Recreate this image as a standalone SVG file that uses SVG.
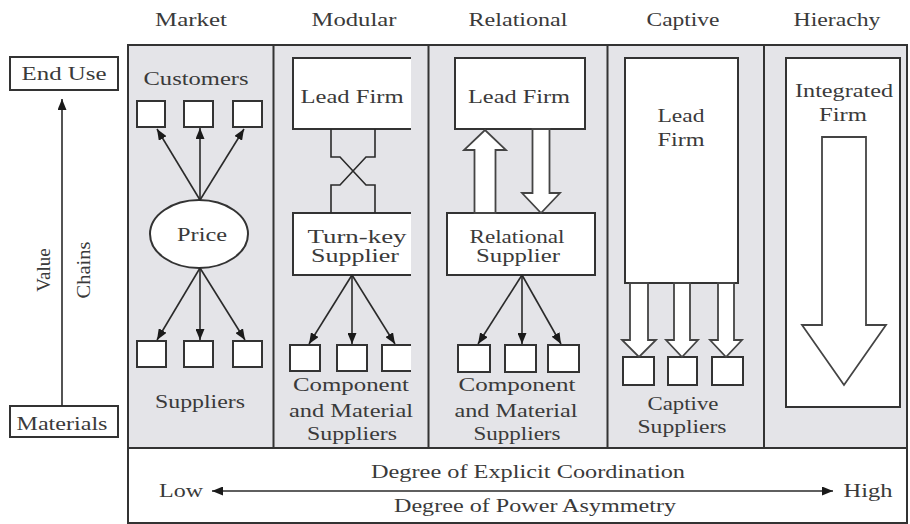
<svg xmlns="http://www.w3.org/2000/svg" width="910" height="524" viewBox="0 0 910 524">
<defs>
<style>
.t{font-family:"Liberation Serif","Times New Roman",serif;font-size:19px;fill:#3a3a3a;text-anchor:middle}
.box{fill:#fff;stroke:#333;stroke-width:2}
.col{fill:#e4e4e8;stroke:#333;stroke-width:2}
.ln{fill:none;stroke:#2a2a2a;stroke-width:1.6}
.hol{fill:#fff;stroke:#444;stroke-width:1.8;stroke-linejoin:miter}
</style>
<marker id="ah" markerUnits="userSpaceOnUse" markerWidth="11" markerHeight="9" viewBox="0 0 11 9" refX="11" refY="4.5" orient="auto-start-reverse">
<path d="M0,0 L11,4.5 L0,9 z" fill="#1a1a1a"/>
</marker>
<clipPath id="modclip"><rect x="273" y="45" width="138" height="403"/></clipPath>
</defs>
<rect width="910" height="524" fill="#fff"/>

<g id="columns">
<rect class="col" x="128" y="45" width="779" height="403"/>
<line x1="273.5" y1="45" x2="273.5" y2="448" stroke="#333" stroke-width="2"/>
<line x1="428.5" y1="45" x2="428.5" y2="448" stroke="#333" stroke-width="2"/>
<line x1="607.5" y1="45" x2="607.5" y2="448" stroke="#333" stroke-width="2"/>
<line x1="764" y1="45" x2="764" y2="448" stroke="#333" stroke-width="2"/>
<rect class="box" x="128" y="448" width="779" height="75"/>
</g>

<g id="column-labels">
<text class="t" x="191" y="26" textLength="72" lengthAdjust="spacingAndGlyphs">Market</text>
<text class="t" x="354" y="26" textLength="85" lengthAdjust="spacingAndGlyphs">Modular</text>
<text class="t" x="518" y="26" textLength="99" lengthAdjust="spacingAndGlyphs">Relational</text>
<text class="t" x="683" y="26" textLength="73" lengthAdjust="spacingAndGlyphs">Captive</text>
<text class="t" x="837" y="26" textLength="87" lengthAdjust="spacingAndGlyphs">Hierachy</text>
</g>

<g id="end-use">
<rect class="box" x="10" y="57" width="108" height="33"/>
<text class="t" x="64" y="80" textLength="85" lengthAdjust="spacingAndGlyphs">End Use</text>
</g>
<g id="materials">
<rect class="box" x="10" y="406" width="108" height="31"/>
<text class="t" x="62" y="430" textLength="91" lengthAdjust="spacingAndGlyphs">Materials</text>
</g>
<g id="value-chains-label">
<text class="t" transform="translate(50,270) rotate(-90)">Value</text>
<text class="t" transform="translate(90,270) rotate(-90)" textLength="57" lengthAdjust="spacingAndGlyphs">Chains</text>
</g>

<g id="market">
<text class="t" x="196" y="85" textLength="105" lengthAdjust="spacingAndGlyphs">Customers</text>
<rect class="box" x="137" y="101" width="28" height="26"/>
<rect class="box" x="184" y="101" width="29" height="26"/>
<rect class="box" x="233" y="101" width="29" height="26"/>
<ellipse class="box" cx="199" cy="234" rx="49" ry="34"/>
<text class="t" x="202" y="241" textLength="50" lengthAdjust="spacingAndGlyphs">Price</text>
<rect class="box" x="137" y="341" width="29" height="26"/>
<rect class="box" x="184" y="341" width="29" height="26"/>
<rect class="box" x="233" y="341" width="29" height="26"/>
<text class="t" x="200" y="408" textLength="90" lengthAdjust="spacingAndGlyphs">Suppliers</text>
</g>

<g id="modular">
<rect class="box" x="293" y="58" width="130" height="71" clip-path="url(#modclip)"/>
<text class="t" x="352" y="103" textLength="103" lengthAdjust="spacingAndGlyphs">Lead Firm</text>
<rect class="box" x="293" y="213" width="130" height="62" clip-path="url(#modclip)"/>
<text class="t" x="357" y="243" textLength="99" lengthAdjust="spacingAndGlyphs">Turn-key</text>
<text class="t" x="355" y="262" textLength="88" lengthAdjust="spacingAndGlyphs">Supplier</text>
<rect class="box" x="290" y="345" width="30" height="26"/>
<rect class="box" x="337" y="345" width="30" height="26"/>
<rect class="box" x="382" y="345" width="40" height="26" clip-path="url(#modclip)"/>
<text class="t" x="351" y="391" textLength="116" lengthAdjust="spacingAndGlyphs">Component</text>
<text class="t" x="351" y="417" textLength="124" lengthAdjust="spacingAndGlyphs">and Material</text>
<text class="t" x="352" y="440" textLength="90" lengthAdjust="spacingAndGlyphs">Suppliers</text>
</g>

<g id="relational">
<rect class="box" x="455" y="58" width="130" height="71"/>
<text class="t" x="519" y="103" textLength="102" lengthAdjust="spacingAndGlyphs">Lead Firm</text>
<rect class="box" x="447" y="213" width="148" height="62"/>
<text class="t" x="517" y="243" textLength="95" lengthAdjust="spacingAndGlyphs">Relational</text>
<text class="t" x="518" y="262" textLength="84" lengthAdjust="spacingAndGlyphs">Supplier</text>
<rect class="box" x="458" y="345" width="32" height="27"/>
<rect class="box" x="505" y="345" width="31" height="27"/>
<rect class="box" x="548" y="345" width="31" height="27"/>
<text class="t" x="517" y="391" textLength="117" lengthAdjust="spacingAndGlyphs">Component</text>
<text class="t" x="516" y="417" textLength="123" lengthAdjust="spacingAndGlyphs">and Material</text>
<text class="t" x="517" y="440" textLength="87" lengthAdjust="spacingAndGlyphs">Suppliers</text>
</g>

<g id="captive">
<rect class="box" x="625" y="58" width="113" height="225"/>
<text class="t" x="681" y="122" textLength="47" lengthAdjust="spacingAndGlyphs">Lead</text>
<text class="t" x="681" y="146" textLength="47" lengthAdjust="spacingAndGlyphs">Firm</text>
<rect class="box" x="623" y="357" width="31" height="28"/>
<rect class="box" x="668" y="357" width="29" height="28"/>
<rect class="box" x="712" y="357" width="31" height="28"/>
<text class="t" x="683" y="410" textLength="71" lengthAdjust="spacingAndGlyphs">Captive</text>
<text class="t" x="682" y="433" textLength="89" lengthAdjust="spacingAndGlyphs">Suppliers</text>
</g>

<g id="hierarchy">
<rect class="box" x="786" y="58" width="114" height="349"/>
<text class="t" x="844" y="97" textLength="98" lengthAdjust="spacingAndGlyphs">Integrated</text>
<text class="t" x="843" y="121" textLength="48" lengthAdjust="spacingAndGlyphs">Firm</text>
</g>

<g id="scale">
<text class="t" x="528" y="478" textLength="314" lengthAdjust="spacingAndGlyphs">Degree of Explicit Coordination</text>
<text class="t" x="181" y="497" textLength="44" lengthAdjust="spacingAndGlyphs">Low</text>
<text class="t" x="868" y="497" textLength="49" lengthAdjust="spacingAndGlyphs">High</text>
<text class="t" x="535" y="512" textLength="282" lengthAdjust="spacingAndGlyphs">Degree of Power Asymmetry</text>
</g>

<g id="connectors">
<line class="ln" x1="62" y1="406" x2="62" y2="99" marker-end="url(#ah)"/>
<line class="ln" x1="200" y1="200" x2="157" y2="129" marker-end="url(#ah)"/>
<line class="ln" x1="200" y1="200" x2="200" y2="128" marker-end="url(#ah)"/>
<line class="ln" x1="200" y1="200" x2="244" y2="129" marker-end="url(#ah)"/>
<line class="ln" x1="200" y1="268" x2="157" y2="340" marker-end="url(#ah)"/>
<line class="ln" x1="200" y1="268" x2="200" y2="340" marker-end="url(#ah)"/>
<line class="ln" x1="200" y1="268" x2="245" y2="340" marker-end="url(#ah)"/>
<polyline class="ln" points="331,129 331,157 340,157 366,185 375,185 375,213"/>
<polyline class="ln" points="375,129 375,157 366,157 340,185 331,185 331,213"/>
<line class="ln" x1="352" y1="275" x2="309" y2="344" marker-end="url(#ah)"/>
<line class="ln" x1="352" y1="275" x2="352" y2="344" marker-end="url(#ah)"/>
<line class="ln" x1="352" y1="275" x2="395" y2="344" marker-end="url(#ah)"/>
<polygon class="hol" points="474.5,213 495.5,213 495.5,150 506,150 485,130 464,150 474.5,150"/>
<polygon class="hol" points="532.5,129 549.5,129 549.5,193 560,193 541,213 522,193 532.5,193"/>
<line class="ln" x1="522" y1="275" x2="478" y2="344" marker-end="url(#ah)"/>
<line class="ln" x1="522" y1="275" x2="522" y2="344" marker-end="url(#ah)"/>
<line class="ln" x1="522" y1="275" x2="561" y2="344" marker-end="url(#ah)"/>
<polygon class="hol" points="630,283 648,283 648,340 656,340 639,357 622,340 630,340"/>
<polygon class="hol" points="674,283 690,283 690,340 698,340 682,357 666,340 674,340"/>
<polygon class="hol" points="718,283 734,283 734,340 742,340 726,357 710,340 718,340"/>
<polygon class="hol" points="822,137 866,137 866,325 886,325 844,385 802,325 822,325"/>
<line class="ln" x1="212" y1="491" x2="833" y2="491" marker-start="url(#ah)" marker-end="url(#ah)"/>
</g>
</svg>
